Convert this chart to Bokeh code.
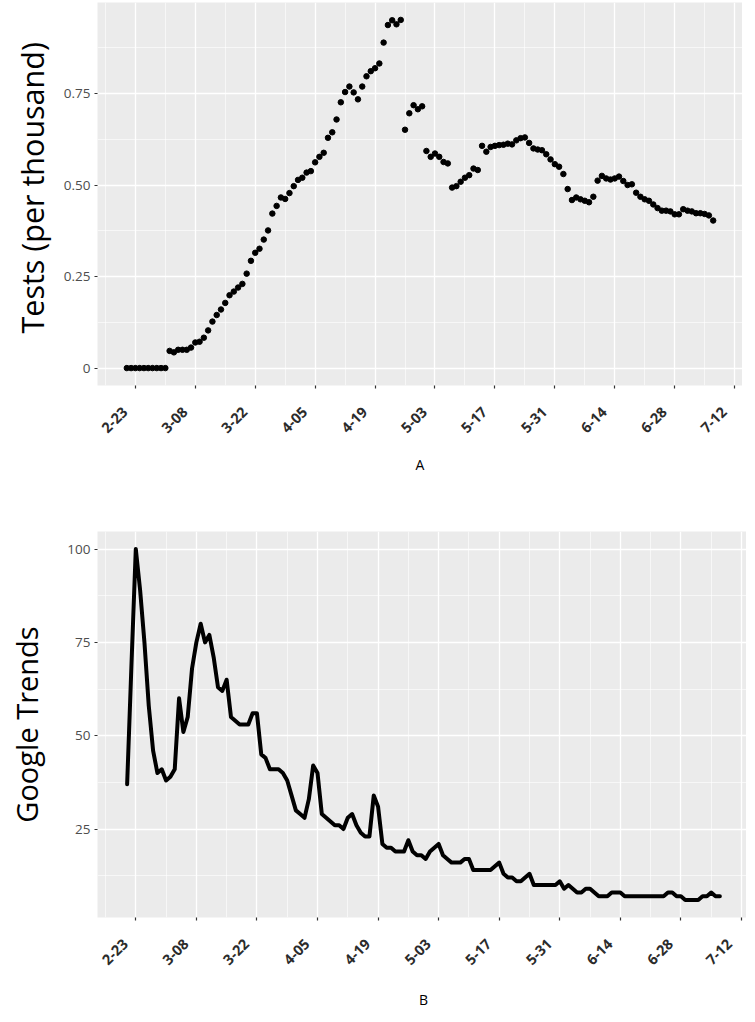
import math
import numpy as np
import pandas as pd
from bokeh.plotting import figure
from bokeh.layouts import column
from bokeh.models import Range1d, FixedTicker, CustomJSTickFormatter, Title
from bokeh.embed import file_html
from bokeh.resources import INLINE

# ---------------- data ----------------
start_date = "2020-02-21"
origin_date = "2020-02-23"

tick_labels = ["2-23", "3-08", "3-22", "4-05", "4-19", "5-03",
               "5-17", "5-31", "6-14", "6-28", "7-12"]

tests_per_thousand = [
    0, 0, 0, 0, 0, 0, 0, 0, 0, 0,
    0.047, 0.043, 0.050, 0.050, 0.050, 0.056, 0.070, 0.072, 0.083, 0.103,
    0.127, 0.145, 0.160, 0.178, 0.199, 0.209, 0.220, 0.230, 0.258, 0.293,
    0.315, 0.326, 0.351, 0.376, 0.422, 0.443, 0.466, 0.462, 0.478, 0.497,
    0.514, 0.520, 0.534, 0.538, 0.562, 0.577, 0.588, 0.629, 0.644, 0.679,
    0.726, 0.754, 0.769, 0.753, 0.734, 0.769, 0.797, 0.811, 0.819, 0.832,
    0.889, 0.937, 0.950, 0.939, 0.951, 0.651, 0.696, 0.718, 0.707, 0.715,
    0.593, 0.577, 0.586, 0.577, 0.563, 0.559, 0.493, 0.497, 0.509, 0.520,
    0.527, 0.545, 0.541, 0.607, 0.591, 0.604, 0.607, 0.609, 0.610, 0.613,
    0.611, 0.622, 0.628, 0.630, 0.615, 0.600, 0.597, 0.595, 0.584, 0.570,
    0.557, 0.550, 0.530, 0.489, 0.459, 0.466, 0.461, 0.457, 0.453, 0.468,
    0.512, 0.525, 0.518, 0.515, 0.518, 0.523, 0.511, 0.500, 0.502, 0.479,
    0.468, 0.461, 0.457, 0.447, 0.437, 0.430, 0.430, 0.428, 0.420, 0.420,
    0.434, 0.430, 0.428, 0.423, 0.423, 0.421, 0.417, 0.403,
]

google_trends = [
    37, 69, 100, 89, 75, 58, 46, 40, 41, 38,
    39, 41, 60, 51, 55, 68, 75, 80, 75, 77,
    71, 63, 62, 65, 55, 54, 53, 53, 53, 56,
    56, 45, 44, 41, 41, 41, 40, 38, 34, 30,
    29, 28, 33, 42, 40, 29, 28, 27, 26, 26,
    25, 28, 29, 26, 24, 23, 23, 34, 31, 21,
    20, 20, 19, 19, 19, 22, 19, 18, 18, 17,
    19, 20, 21, 18, 17, 16, 16, 16, 17, 17,
    14, 14, 14, 14, 14, 15, 16, 13, 12, 12,
    11, 11, 12, 13, 10, 10, 10, 10, 10, 10,
    11, 9, 10, 9, 8, 8, 9, 9, 8, 7,
    7, 7, 8, 8, 8, 7, 7, 7, 7, 7,
    7, 7, 7, 7, 7, 8, 8, 7, 7, 6,
    6, 6, 6, 7, 7, 8, 7, 7,
]

# ---------------- derived positions (days since 2-23) ----------------
origin = pd.Timestamp(origin_date)
dates_a = pd.date_range(start_date, periods=len(tests_per_thousand))
dates_b = pd.date_range(start_date, periods=len(google_trends))
x_a = np.array((dates_a - origin).days, dtype=float)
x_b = np.array((dates_b - origin).days, dtype=float)
tick_pos = [int((pd.Timestamp("2020-" + t) - origin).days) for t in tick_labels]
minor_pos = [tick_pos[0] - 7] + [t + 7 for t in tick_pos[:-1]]
# non-breaking padding keeps the rotated label's end just left of its tick
overrides = {t: lab + "\u00a0" * 4 for t, lab in zip(tick_pos, tick_labels)}


def padded(lo, hi, frac=0.05):
    d = (hi - lo) * frac
    return lo - d, hi + d


FONT = "Open Sans"


def style(p, xlabel, yticks, yminor, xstandoff):
    p.background_fill_color = "#EBEBEB"
    p.border_fill_color = "white"
    p.outline_line_color = None
    p.xaxis.ticker = FixedTicker(ticks=tick_pos, minor_ticks=minor_pos)
    p.yaxis.ticker = FixedTicker(ticks=yticks, minor_ticks=yminor)
    p.xaxis.major_label_overrides = overrides
    for g in (p.xgrid, p.ygrid):
        g.grid_line_color = "white"
        g.grid_line_width = 1.3
        g.minor_grid_line_color = "white"
        g.minor_grid_line_width = 0.6
    for ax in (p.xaxis, p.yaxis):
        ax.axis_line_color = None
        ax.major_tick_line_color = "#333333"
        ax.major_tick_line_width = 1.2
        ax.major_tick_out = 3
        ax.major_tick_in = 0
        ax.minor_tick_line_color = None
        ax.major_label_text_font = FONT
        ax.axis_label_text_font = FONT
        ax.axis_label_text_font_style = "normal"
        ax.axis_label_text_color = "black"
    p.xaxis.major_label_orientation = math.pi / 4
    p.xaxis.major_label_text_font_size = "14.5px"
    p.xaxis.major_label_text_font_style = "bold"
    p.xaxis.major_label_text_color = "#2b2b2b"
    p.xaxis.major_label_standoff = 9
    p.xaxis.axis_label = xlabel
    p.xaxis.axis_label_text_font_size = "14px"
    p.xaxis.axis_label_standoff = xstandoff
    p.yaxis.major_label_text_font_size = "13.5px"
    p.yaxis.major_label_text_color = "#4D4D4D"
    p.yaxis.major_label_standoff = 3


xr = padded(min(x_a.min(), x_b.min()), max(x_a.max(), x_b.max()))

# ---------------- panel A ----------------
ya = padded(min(tests_per_thousand), max(tests_per_thousand))
p1 = figure(frame_width=645, frame_height=383, min_border_left=89,
            min_border_right=0, min_border_top=2, min_border_bottom=89,
            x_range=Range1d(*xr), y_range=Range1d(*ya),
            output_backend="svg", toolbar_location=None)
p1.scatter(x_a, tests_per_thousand, size=5.5, color="black")
style(p1, "A", [0, 0.25, 0.5, 0.75], [0.125, 0.375, 0.625, 0.875], 9)
p1.yaxis.formatter = CustomJSTickFormatter(
    code="return tick == 0 ? '0' : tick.toFixed(2);")
p1.add_layout(Title(text="Tests (per thousand)", align="left", offset=52,
                    standoff=16, text_font=FONT, text_font_size="30.5px",
                    text_font_style="normal", text_color="black"), "left")

# ---------------- panel B ----------------
yb = padded(min(google_trends), max(google_trends))
p2 = figure(frame_width=652, frame_height=386, min_border_left=86,
            min_border_right=1, min_border_top=54, min_border_bottom=92,
            x_range=Range1d(*xr), y_range=Range1d(*yb),
            output_backend="svg", toolbar_location=None)
p2.line(x_b, google_trends, line_width=4, color="black",
        line_join="round", line_cap="round")
style(p2, "B", [25, 50, 75, 100], [12.5, 37.5, 62.5, 87.5], 12)
p2.yaxis.axis_label = "Google Trends"
p2.yaxis.axis_label_text_font_size = "29px"
p2.yaxis.axis_label_standoff = 18

layout = column(p1, p2, spacing=0)
open("out.html", "w").write(file_html(layout, INLINE))
